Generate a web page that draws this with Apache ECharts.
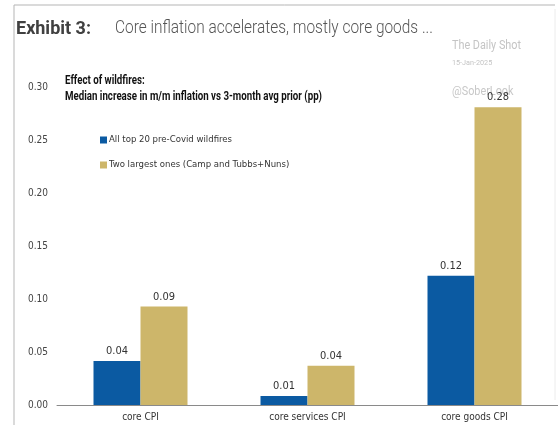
<!DOCTYPE html>
<html>
<head>
<meta charset="utf-8">
<script src="https://cdn.jsdelivr.net/npm/echarts@6/dist/echarts.min.js"></script>
<style>
html,body{margin:0;padding:0;background:#fff;}
#chart{width:558px;height:425px;}
</style>
</head>
<body>
<div id="chart"></div>
<script>
const categories = ['core CPI', 'core services CPI', 'core goods CPI'];
const allTop20 = [0.0415, 0.0085, 0.122];
const twoLargest = [0.093, 0.037, 0.281];
const seriesNames = ['All top 20 pre-Covid wildfires', 'Two largest ones (Camp and Tubbs+Nuns)'];
const yTicks = { min: 0, max: 0.30, interval: 0.05 };

const NARROW = "'Liberation Sans Narrow', 'DejaVu Sans Condensed', 'Roboto', sans-serif";

// squeeze text horizontally to match the condensed look of the original
const ctx = document.createElement('canvas').getContext('2d');
function fitScale(text, font, target) {
  ctx.font = font;
  const w = ctx.measureText(text).width;
  return w > 0 ? Math.min(1, target / w) : 1;
}
const titleText = 'Core inflation accelerates, mostly core goods ...';
const titleScale = fitScale(titleText, '300 19px Roboto', 318);
const subLine2 = 'Median increase in m/m inflation vs 3-month avg prior (pp)';
const subScale = fitScale(subLine2, 'bold 12.5px Roboto', 257);
const wmScale = fitScale('The Daily Shot', '12px Roboto', 69);

const chart = echarts.init(document.getElementById('chart'));
const labelOpt = {
  show: true, position: 'top', distance: 4,
  fontFamily: NARROW, fontSize: 11, color: '#333',
  formatter: p => p.value.toFixed(2)
};
chart.setOption({
  animation: false,
  backgroundColor: '#fff',
  grid: { left: 57, right: 0, top: 87, bottom: 20, containLabel: false },
  legend: {
    orient: 'vertical', left: 95, top: 130, itemGap: 15,
    itemWidth: 7, itemHeight: 7, icon: 'rect',
    textStyle: { fontFamily: NARROW, fontSize: 9.5, color: '#333', padding: [0, 0, 0, -3] },
    data: seriesNames
  },
  xAxis: {
    type: 'category', data: categories,
    axisLine: { lineStyle: { color: '#8a8a8a', width: 1 } },
    axisTick: { show: false },
    axisLabel: { fontFamily: NARROW, fontSize: 10, color: '#333', margin: 7 }
  },
  yAxis: {
    type: 'value', min: yTicks.min, max: yTicks.max, interval: yTicks.interval,
    axisLine: { show: false }, axisTick: { show: false }, splitLine: { show: false },
    axisLabel: { fontFamily: NARROW, fontSize: 10, color: '#444', margin: 9,
      formatter: v => v.toFixed(2) }
  },
  series: [
    { name: seriesNames[0], type: 'bar', data: allTop20, barWidth: 47, barGap: '0%',
      itemStyle: { color: '#0b5aa2' }, label: labelOpt, z: 3 },
    { name: seriesNames[1], type: 'bar', data: twoLargest, barWidth: 47,
      itemStyle: { color: '#cdb66a' }, label: labelOpt, z: 3 }
  ],
  graphic: [
    { type: 'line', shape: { x1: 14, y1: 5, x2: 555, y2: 5 }, style: { stroke: '#b5b5b5', lineWidth: 1 }, silent: true },
    { type: 'line', shape: { x1: 14, y1: 5, x2: 14, y2: 425 }, style: { stroke: '#b5b5b5', lineWidth: 1 }, silent: true },
    { type: 'line', shape: { x1: 555, y1: 9, x2: 555, y2: 400 }, style: { stroke: '#ececec', lineWidth: 1 }, silent: true },
    { type: 'text', x: 16, y: 20, style: { text: 'Exhibit 3:', fontFamily: 'Roboto, Arial, sans-serif', fontWeight: 'bold', fontSize: 18, fill: '#404040', textVerticalAlign: 'top' } },
    { type: 'text', x: 115, y: 19, scaleX: titleScale, style: { text: titleText, fontFamily: 'Roboto, sans-serif', fontWeight: 300, fontSize: 19, fill: '#555', textVerticalAlign: 'top' } },
    { type: 'text', x: 452, y: 40, z: 0, scaleX: wmScale, style: { text: 'The Daily Shot', fontFamily: 'Roboto, sans-serif', fontSize: 12, fill: '#c4c4c4', textVerticalAlign: 'top' } },
    { type: 'text', x: 452, y: 59, z: 0, scaleX: wmScale, style: { text: '15-Jan-2025', fontFamily: 'Roboto, sans-serif', fontSize: 8, fill: '#c4c4c4', textVerticalAlign: 'top' } },
    { type: 'text', x: 452, y: 86, z: 0, scaleX: wmScale, style: { text: '@SoberLook', fontFamily: 'Roboto, sans-serif', fontSize: 12, fill: '#c8c8c8', textVerticalAlign: 'top' } },
    { type: 'text', x: 65, y: 73, scaleX: subScale, style: { text: 'Effect of wildfires:\n' + subLine2, fontFamily: 'Roboto, sans-serif', fontWeight: 'bold', fontSize: 12.5, lineHeight: 16, fill: '#111', textVerticalAlign: 'top' } }
  ]
});
</script>
</body>
</html>
